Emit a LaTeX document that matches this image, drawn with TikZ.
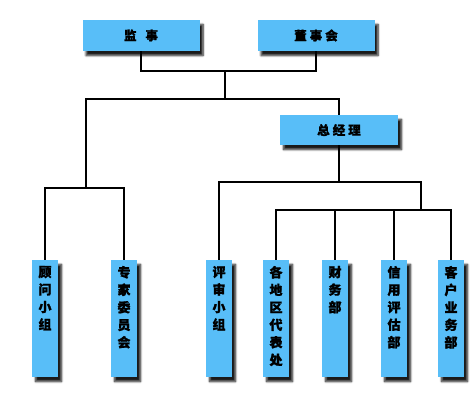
\documentclass[tikz,border=0pt]{standalone}
\usepackage{fontspec}
\newfontfamily\cjk{Noto Sans CJK SC}[BoldFeatures={FakeBold=1.3}]
\usetikzlibrary{shadows.blur}
\definecolor{boxblue}{RGB}{88,190,248}
\begin{document}
\begin{tikzpicture}[x=1pt,y=-1pt,
  box/.style={fill=boxblue, inner sep=0pt,
    blur shadow={shadow xshift=3.5pt, shadow yshift=-4.5pt, shadow blur radius=2pt, shadow blur steps=6, shadow opacity=90}},
  hbox/.style={box, minimum width=117pt, minimum height=31pt, font=\cjk\bfseries\fontsize{12.5}{14}\selectfont},
  vbox/.style={box, minimum width=26pt, minimum height=117pt},
  vtext/.style={anchor=north, align=center, yshift=-6pt, inner sep=0pt, font=\cjk\bfseries\fontsize{13}{17.5}\selectfont},
  link/.style={draw=black, line width=1.3pt}]
\useasboundingbox (0,0) rectangle (475,404);
% top boxes
\node[hbox] (js) at (141,35.5) {监\hspace{9pt}事};
\node[hbox] (ds) at (316,35.5) {董\hspace{3pt}事\hspace{3pt}会};
\node[hbox, minimum width=118pt, minimum height=30pt] (zjl) at (339,130) {总\hspace{3pt}经\hspace{3pt}理};
% bottom boxes
\node[vbox, label={[vtext]north:顾\\问\\小\\组}] (gw) at (45,318.5) {};
\node[vbox, label={[vtext]north:专\\家\\委\\员\\会}] (zj) at (124,318.5) {};
\node[vbox, label={[vtext]north:评\\审\\小\\组}] (ps) at (219,318.5) {};
\node[vbox, label={[vtext]north:各\\地\\区\\代\\表\\处}] (gd) at (276,318.5) {};
\node[vbox, label={[vtext]north:财\\务\\部}] (cw) at (335,318.5) {};
\node[vbox, label={[vtext]north:信\\用\\评\\估\\部}] (xy) at (394,318.5) {};
\node[vbox, label={[vtext]north:客\\户\\业\\务\\部}] (kh) at (451,318.5) {};
% junctions
\coordinate (c1) at (225,71);
\coordinate (c2) at (225,99);
\coordinate (c3) at (86,188);
\coordinate (c4) at (339,182);
\coordinate (c5) at (421,210);
% connectors
\draw[link] (js.south) |- (c1) -| (ds.south);
\draw[link] (c1) -- (c2);
\draw[link] (c3) |- (c2) -| (zjl.north);
\draw[link] (gw.north) |- (c3) -| (zj.north);
\draw[link] (zjl.south) -- (c4);
\draw[link] (ps.north) |- (c4) -| (c5);
\draw[link] (gd.north) |- (c5) -| (kh.north);
\draw[link] (cw.north) -- (cw.north |- c5);
\draw[link] (xy.north) -- (xy.north |- c5);
\end{tikzpicture}
\end{document}
